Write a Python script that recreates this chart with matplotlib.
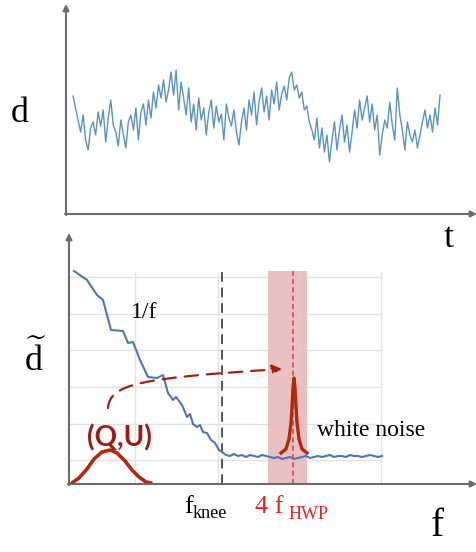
import matplotlib.pyplot as plt
from matplotlib.patches import FancyArrowPatch, Rectangle
from matplotlib.path import Path

W, H = 477, 552

# top panel: detector timestream d(t), arbitrary units
timestream = [
    74, 62, 50, 38, 55, 30, 20, 42, 48, 35, 58, 44, 60, 28, 52, 70, 45, 38, 24, 50, 36, 22, 48,
    55, 40, 62, 30, 58, 66, 45, 70, 52, 78,
    62, 85, 72, 90, 68, 80, 98, 75, 100, 60, 88, 72,
    55, 82, 48, 66, 40, 72, 50, 62, 35, 58, 70, 42, 64, 48, 56, 30, 66, 52, 44, 60, 38, 25,
    48, 62, 40, 70, 55, 78, 45, 68, 82, 58, 74, 50, 80, 66, 88, 60, 76, 84, 70, 92, 98, 80,
    85, 72, 78, 60, 64, 48, 40, 30, 52, 22, 42, 18, 35, 8,
    30, 48, 20, 40, 55, 28, 45, 18, 38, 60, 42, 70, 50, 62, 74, 48, 66, 40, 55, 15,
    35, 50, 42, 68, 45, 30, 82, 55, 40, 20, 48, 35,
    28, 40, 22, 35, 48, 60, 42, 55, 38, 62, 45, 75,
]

# bottom panel: noise spectrum (1/f part then white plateau)
spec_freq = [5, 18, 28, 34, 42, 54, 59, 64, 71, 79, 88, 94, 99, 104, 107, 113, 116, 118,
             121, 124, 128, 131, 134, 138, 142, 146, 150, 153,
             157, 161, 165, 169, 173, 177, 181, 185, 189, 193, 197, 201, 205, 209, 213,
             217, 221, 225, 229, 233, 237, 241, 245, 249, 253, 257, 261, 265, 269, 273,
             277, 281, 285, 289, 293, 297, 301, 305, 309, 313]
spec_amp = [213, 204, 189, 184, 154, 153, 141, 142, 124, 107, 106, 109, 91, 84, 87, 79, 72, 67,
            70, 60, 57, 59, 52, 51, 44, 41, 34, 32,
            29, 28, 30, 28, 29, 27, 29, 28, 27, 29, 28, 27, 26, 27, 25,
            26, 27, 25, 26, 27, 28, 26, 27, 28, 27, 28, 29, 27, 28, 28,
            27, 29, 28, 28, 27, 28, 29, 28, 27, 28]

# (Q,U) signal band before modulation
qu_freq = [3, 10, 18, 25, 33, 41, 48, 56, 63, 70, 77, 82]
qu_amp = [1, 6, 15, 25, 32, 34, 31, 23, 14, 7, 2, 1]

# modulated line at 4 f_HWP
hwp_freq = [212, 217, 220, 222, 223, 224, 225, 226, 227, 228, 230, 233, 238]
hwp_amp = [31, 35, 45, 61, 77, 96, 106, 96, 77, 61, 45, 35, 31]

grid_levels = [207, 170, 134, 97, 60, 24]
grid_freqs = [66, 149, 233, 312]
f_knee = 153
f_hwp4 = 224
hwp_band = (199, 238)

SERIF = "Liberation Serif"
AXIS_GREY = "#6b6b6b"
DARK_RED = "#a3200e"

plt.rcParams["mathtext.fontset"] = "custom"
plt.rcParams["mathtext.rm"] = SERIF


def fig_xy(x, y):
    # image pixel (from top-left) -> figure fraction
    return x / W, 1 - y / H


fig = plt.figure(figsize=(W / 100, H / 100), dpi=100)

# ---- top panel
ax1 = fig.add_axes([66 / W, 1 - 214 / H, (476 - 66) / W, (214 - 5) / H])
ax1.plot(range(len(timestream)), timestream, color="#5b93c0", lw=1.0)
ax1.set_xlim(-2.8, 160.3)
ax1.set_ylim(-44, 165)
ax1.set_axis_off()

# ---- bottom panel
ax2 = fig.add_axes([69 / W, 1 - 484 / H, (476 - 69) / W, (484 - 233) / H])
ax2.set_xlim(0, 407)
ax2.set_ylim(0, 251)
ax2.set_axis_off()

for lv in grid_levels:
    ax2.plot([1, 312], [lv, lv], color="#e2e2e2", lw=1.0, zorder=0)
for fv in grid_freqs:
    ax2.plot([fv, fv], [0, 212], color="#e2e2e2", lw=1.0, zorder=0)

ax2.add_patch(Rectangle((hwp_band[0], 0), hwp_band[1] - hwp_band[0], 213,
                        facecolor="#e9b9b9", edgecolor="none", alpha=0.9, zorder=1))
ax2.plot([f_hwp4, f_hwp4], [0, 213], color="#c9505c", lw=1.2, ls=(0, (3, 2)), zorder=2)
ax2.plot([f_knee, f_knee], [0, 214], color="#555555", lw=1.4, ls=(0, (5, 3)), zorder=2)

ax2.plot(spec_freq, spec_amp, color="#4f74b8", lw=1.5, zorder=3)
ax2.plot(qu_freq, qu_amp, color="#b02a0c", lw=2.6, zorder=4, solid_capstyle="round")
ax2.plot(hwp_freq, hwp_amp, color="#b02a0c", lw=2.4, zorder=4, solid_joinstyle="round")

# dashed arrow carrying (Q,U) up to 4 f_HWP
verts = [(39, 76), (41, 100), (70, 106), (213, 115)]
codes = [Path.MOVETO, Path.CURVE4, Path.CURVE4, Path.CURVE4]
ax2.add_patch(FancyArrowPatch(path=Path(verts, codes), arrowstyle="-|>", mutation_scale=14,
                              color=DARK_RED, lw=1.6, ls=(0, (6, 4)), zorder=5))

# ---- axes arrows (figure pixels)
def axis_arrow(x0, y0, x1, y1):
    fig.add_artist(FancyArrowPatch(fig_xy(x0, y0), fig_xy(x1, y1), transform=fig.transFigure,
                                   arrowstyle="-|>", mutation_scale=9, color=AXIS_GREY,
                                   lw=1.5, shrinkA=0, shrinkB=0))


axis_arrow(66, 215, 66, 4)
axis_arrow(65, 214, 477, 214)
axis_arrow(69, 485, 69, 233)
axis_arrow(68, 484, 477, 484)

# ---- labels
fig.text(*fig_xy(20, 122), "d", family=SERIF, fontsize=26, ha="center", va="baseline")
fig.text(*fig_xy(449, 247), "t", family=SERIF, fontsize=26, ha="center", va="baseline")
fig.text(*fig_xy(35, 371), r"$\widetilde{\mathrm{d}}$", fontsize=26, ha="center", va="baseline")
fig.text(*fig_xy(437, 536), "f", family=SERIF, fontsize=28, ha="center", va="baseline")

fig.text(*fig_xy(131, 318), "1/f", family=SERIF, fontsize=17, va="baseline")
fig.text(*fig_xy(317, 436), "white noise", family=SERIF, fontsize=17, va="baseline")
fig.text(*fig_xy(87, 446), "(Q,U)", family="Lato", weight="bold", fontsize=20,
         color="#9c1c14", va="baseline")

fig.text(*fig_xy(184, 513), "f", family=SERIF, fontsize=19, va="baseline")
fig.text(*fig_xy(193, 518), "knee", family=SERIF, fontsize=13, va="baseline")
fig.text(*fig_xy(255, 513), "4 f", family=SERIF, fontsize=19, color="#e8231f", va="baseline")
fig.text(*fig_xy(289, 519), "HWP", family=SERIF, fontsize=13, color="#e8231f", va="baseline")

fig.savefig("out.png", dpi=100)
